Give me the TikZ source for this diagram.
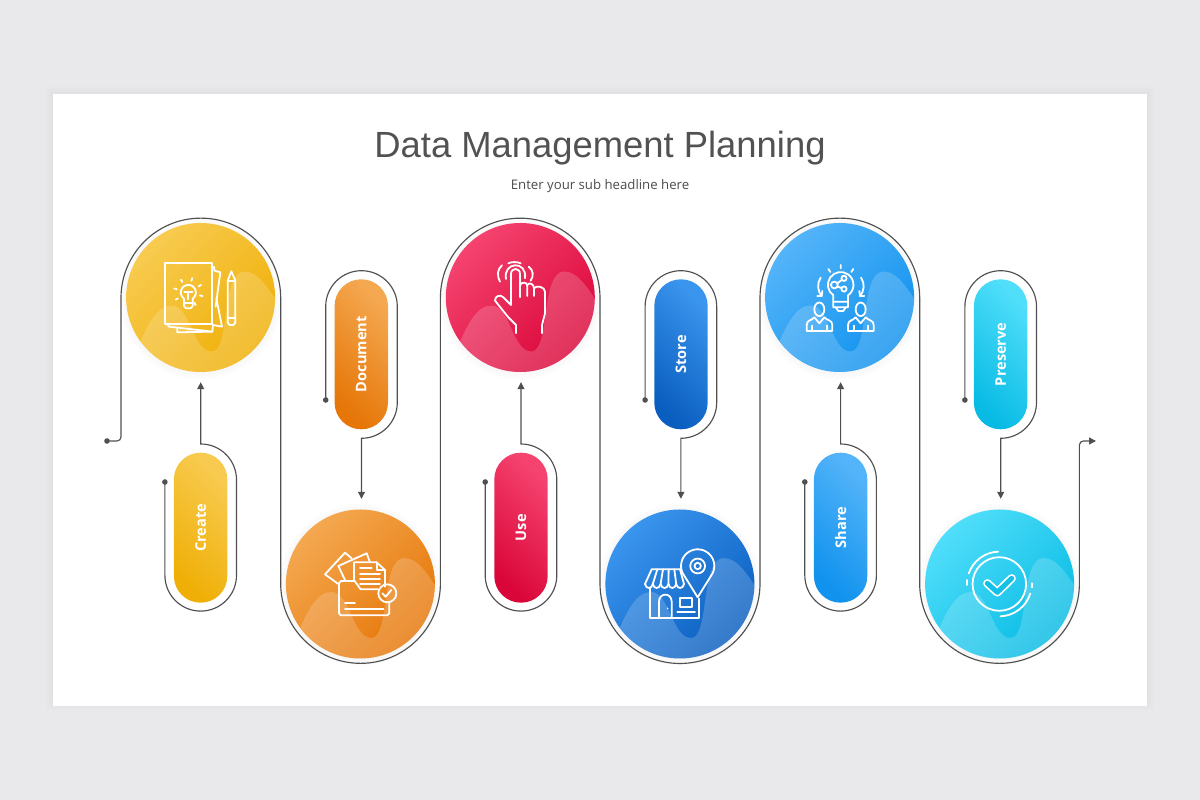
\documentclass[tikz,border=0pt]{standalone}
\usepackage{fontspec}
\setmainfont{Open Sans}
\newfontfamily\titlefont{Liberation Sans}
\usetikzlibrary{arrows.meta,calc}
\definecolor{pagebg}{HTML}{E9E8EA}
\definecolor{wirecol}{HTML}{505050}
\definecolor{yelA}{HTML}{F8CB50}\definecolor{yelB}{HTML}{EFAF06}
\definecolor{oraA}{HTML}{F4A850}\definecolor{oraB}{HTML}{E67608}
\definecolor{redA}{HTML}{F5436F}\definecolor{redB}{HTML}{DA0639}
\definecolor{bluA}{HTML}{3A95EE}\definecolor{bluB}{HTML}{0A5EBF}
\definecolor{ligA}{HTML}{54B4F9}\definecolor{ligB}{HTML}{1092EE}
\definecolor{cyaA}{HTML}{50DEFA}\definecolor{cyaB}{HTML}{08BBE4}
\tikzset{
  x=1pt,y=1pt,
  wire/.style={draw=wirecol,line width=1.15pt},
  tipped/.style={wire,-{Triangle[length=7pt,width=7pt]}},
  enddot/.style={circle,fill=wirecol,inner sep=0pt,minimum size=5.6pt},
  disc/.style n args={2}{circle,minimum size=149pt,inner sep=0pt,top color=#1,bottom color=#2,shading angle=45},
  pill/.style n args={2}{rectangle,rounded corners=26.6pt,rotate=90,minimum width=150pt,minimum height=53.4pt,inner sep=0pt,top color=#1,bottom color=#2,shading angle=-45,text=white,font=\bfseries\fontsize{14.6}{16}\selectfont},
  icon/.style={draw=white,line width=1.8pt,line join=round,line cap=round},
  zoomed/.style={x=0.33333pt,y=-0.33333pt},
  halo/.style={fill=black,opacity=0.004}
}
\newcommand{\softhalo}[1]{\foreach \r in {76,77,78,79,80,81,82}{\fill[halo] ($(#1)+(0,-1)$) circle[radius=\r pt];}}
\newcommand{\wavefill}[1]{%
  \begin{scope}
    \clip (#1) circle[radius=74.5pt];
    \fill[white,opacity=0.18,shift={(#1)}] (-66,-58) .. controls (-54,-28) and (-44,-8) .. (-29,-8)
      .. controls (-10,-8) and (-8,-54) .. (11,-54) .. controls (30,-54) and (20,26) .. (44,26)
      .. controls (58,26) and (68,8) .. (78,-6) -- (78,-80) -- (-66,-80) -- cycle;
  \end{scope}}
\newcommand{\lbl}[1]{\raisebox{-1.2pt}{#1}}
\begin{document}
\begin{tikzpicture}
\useasboundingbox (0,0) rectangle (1200,800);
\fill[pagebg] (0,0) rectangle (1200,800);
\foreach \g in {8,7,6,5,4,3,2,1}{\fill[black,opacity=0.005] (53-\g,94-\g+4) rectangle (1147+\g,706+\g);}
\fill[white] (53,94) rectangle (1147,706);

\node[font=\titlefont\fontsize{36.4}{40}\selectfont,text=black!68] (title) at (600,652) {Data Management Planning};
\node[font=\fontsize{13.2}{15}\selectfont,text=black!70] (subtitle) at (600,614) {Enter your sub headline here};

% circle positions
\coordinate (p1) at (200.6,502.5);
\coordinate (p2) at (360.4,216);
\coordinate (p3) at (520.3,502.5);
\coordinate (p4) at (679.9,216);
\coordinate (p5) at (839.6,502.5);
\coordinate (p6) at (999.6,216);
\foreach \k in {1,...,6}{\softhalo{p\k}}

\node[disc={yelA}{yelB}] (c1) at (p1) {};
\node[disc={oraA}{oraB}] (c2) at (p2) {};
\node[disc={redA}{redB}] (c3) at (p3) {};
\node[disc={bluA}{bluB}] (c4) at (p4) {};
\node[disc={ligA}{ligB}] (c5) at (p5) {};
\node[disc={cyaA}{cyaB}] (c6) at (p6) {};
\foreach \k in {1,...,6}{\wavefill{p\k}}

\node[pill={yelA}{yelB}] (create) at (200.6,272.3) {\lbl{Create}};
\node[pill={oraA}{oraB}] (document) at (361.3,445.7) {\lbl{Document}};
\node[pill={redA}{redB}] (use) at (521,272.3) {\lbl{Use}};
\node[pill={bluA}{bluB}] (store) at (681,445.7) {\lbl{Store}};
\node[pill={ligA}{ligB}] (share) at (840.6,272.3) {\lbl{Share}};
\node[pill={cyaA}{cyaB}] (preserve) at (1000.6,445.7) {\lbl{Preserve}};

% main winding line
\node[enddot] (startdot) at (107,359) {};
\coordinate (k0) at (121,359);
\coordinate (k1) at (121,502);
\coordinate (k2) at (280.7,216.5);
\coordinate (k3) at (440.4,502);
\coordinate (k4) at (600,216.5);
\coordinate (k5) at (760,502);
\coordinate (k6) at (919.7,216.5);
\coordinate (k7) at (1079.4,359);
\coordinate (flowend) at (1096,359);
\draw[tipped] (startdot.center) [rounded corners=4pt] -- (k0) [sharp corners] -- (k1)
  arc[start angle=180,end angle=0,radius=79.85pt] -- (k2)
  arc[start angle=180,end angle=360,radius=79.85pt] -- (k3)
  arc[start angle=180,end angle=0,radius=79.8pt] -- (k4)
  arc[start angle=180,end angle=360,radius=80pt] -- (k5)
  arc[start angle=180,end angle=0,radius=79.85pt] -- (k6)
  arc[start angle=180,end angle=360,radius=79.85pt] [rounded corners=4pt] -- (k7) -- (flowend);

% pill connectors, lower row
\foreach \pn/\cn/\dx in {create/c1/200.7,use/c3/521,share/c5/840.6}{
  \pgfmathsetmacro{\lft}{\dx-35.8}
  \node[enddot] (dot\pn) at (\lft,318) {};
  \coordinate (low\pn) at (\lft,224.7);
  \coordinate (up\pn) at (\dx+35.8,320.2);
  \coordinate (ax\pn) at (\dx,0);
  \coordinate (in\pn) at ($(ax\pn |- \cn.south)+(0,-10)$);
  \draw[tipped] (dot\pn.center) -- (low\pn) arc[start angle=180,end angle=360,radius=35.8pt]
     -- (up\pn) arc[start angle=0,end angle=90,radius=35.8pt] -- (in\pn);
}
% pill connectors, upper row
\foreach \pn/\cn/\dx in {document/c2/361.5,store/c4/680.9,preserve/c6/1000.7}{
  \pgfmathsetmacro{\lft}{\dx-35.8}
  \node[enddot] (dot\pn) at (\lft,400) {};
  \coordinate (up\pn) at (\lft,493.5);
  \coordinate (low\pn) at (\dx+35.8,397.5);
  \coordinate (ax\pn) at (\dx,0);
  \coordinate (in\pn) at ($(ax\pn |- \cn.north)+(0,10.5)$);
  \draw[tipped] (dot\pn.center) -- (up\pn) arc[start angle=180,end angle=0,radius=35.8pt]
     -- (low\pn) arc[start angle=0,end angle=-90,radius=35.8pt] -- (in\pn);
}

% icon 1: papers, bulb, pencil
\begin{scope}[shift={(95pt,590pt)},zoomed]
  \draw[icon] (211,160) rectangle (350,342);
  \draw[icon] (350,170) -- (358,172) -- (358,182) -- (376,187) -- (362,290);
  \draw[icon] (364,265) -- (381,350) -- (354,345);
  \draw[icon] (218,344) -- (222,350) -- (352,365) -- (354,343);
  \draw[icon] (247,353) -- (247,367) -- (352,365);
  \draw[icon] (398,212) -- (409,184) -- (421,212) -- (421,338) -- (415,345) -- (404,345) -- (398,338) -- cycle;
  \draw[icon] (398,212) -- (421,212) (398,325) -- (421,325);
  \draw[icon] (267,266) arc[start angle=235,end angle=-55,radius=7.6pt] -- (293,288) -- (287,295) -- (273,295) -- (267,288) -- cycle;
  \draw[icon] (267,279) -- (293,279) (268,245) -- (292,245) (280,245) -- (280,268);
  \foreach \a in {-30,15,60,105,150,195,240}{\draw[icon] ($(280,247)+(\a+180:36 and 36)$) -- ($(280,247)+(\a+180:44 and 44)$);}
\end{scope}

% icon 2: folder with papers
\begin{scope}[shift={(150pt,370pt)},zoomed]
  \draw[icon] (684,478) -- (632,478) -- (614,453) -- (573,453) -- (567,460) -- (567,550) -- (573,556) -- (712,556) -- (718,550) -- (718,518);
  \draw[icon] (585,518) -- (615,518) (585,538) -- (700,538);
  \draw[icon] (712,490) circle[radius=9pt];
  \draw[icon] (697,490) -- (707,500) -- (724,480);
  \draw[icon] (612,450) -- (612,397) -- (680,397) -- (705,420) -- (705,470);
  \draw[icon] (680,397) -- (680,420) -- (705,420);
  \draw[icon] (630,415) -- (665,415) (630,433) -- (690,433) (630,448) -- (690,448) (630,462) -- (690,462);
  \draw[icon] (565,462) -- (525,433) -- (585,368) -- (605,385);
  \draw[icon] (585,450) -- (565,408) -- (650,370) -- (660,397);
\end{scope}

% icon 3: tapping hand
\begin{scope}[shift={(440pt,590pt)},zoomed]
  \draw[icon] (228,370) -- (228,345) -- (205,322) -- (165,272) .. controls (165,258) and (180,252) .. (190,262)
     -- (213,285) -- (213,192) .. controls (213,172) and (240,172) .. (240,192) -- (240,262);
  \draw[icon] (240,225) .. controls (245,215) and (262,215) .. (262,228) -- (262,258);
  \draw[icon] (262,225) .. controls (268,215) and (282,222) .. (282,235) -- (282,258);
  \draw[icon] (282,235) .. controls (288,225) and (315,230) .. (315,245) -- (315,310) -- (306,345) -- (306,370);
  \draw[icon] (198,207) .. controls (188,155) and (262,150) .. (255,205);
  \draw[icon] (180,215) .. controls (170,195) and (172,178) .. (186,166);
  \draw[icon] (205,160) .. controls (215,155) and (232,155) .. (242,160);
  \draw[icon] (266,170) .. controls (280,180) and (282,198) .. (272,212);
\end{scope}

% icon 4: shop with pin
\begin{scope}[shift={(590pt,310pt)},zoomed]
  \draw[icon] (323,322) -- (277.7,249) arc[start angle=205,end angle=-25,radius=16.67pt] -- cycle;
  \draw[icon] (323,228) circle[radius=7.4pt];
  \draw[icon] (323,228) circle[radius=3.2pt];
  \draw[icon] (272,238) -- (185,238) -- (165,282);
  \foreach \i in {0,...,4}{
    \pgfmathsetmacro{\xa}{165+\i*23.4}\pgfmathsetmacro{\xb}{\xa+23.4}
    \pgfmathsetmacro{\tb}{185+(\i+1)*17}
    \draw[icon] (\xa,282) .. controls (\xa+3,298) and (\xb-3,298) .. (\xb,282);
    \draw[icon] (\xb,282) -- (\tb,238);
  }
  \draw[icon] (180,296) -- (180,385) -- (328,385) -- (328,326);
  \draw[icon] (207,380) -- (207,335) .. controls (207,307) and (245,307) .. (245,335) -- (245,380);
  \fill[white] (233,355) circle[radius=0.9pt];
  \draw[icon] (270,325) rectangle (307,352);
  \draw[icon] (262,365) -- (315,365);
\end{scope}

% icon 5: shared idea
\begin{scope}[shift={(755pt,590pt)},zoomed]
  \draw[icon] (235,256) arc[start angle=235,end angle=-55,radius=12.8pt] -- (279,292) -- (235,292) -- cycle;
  \draw[icon] (235,275) -- (279,275) (242,292) -- (250,303) -- (265,303) -- (272,292);
  \draw[icon] (257,165) -- (257,175) (220,177) -- (226,186) (295,177) -- (289,186);
  \draw[icon] (238,225) circle[radius=3.4pt];
  \draw[icon] (267,205) circle[radius=2.6pt];
  \draw[icon] (267,237) circle[radius=2.6pt];
  \draw[icon] (247,220) -- (260,210) (247,230) -- (260,234);
  \draw[icon] (197,203) .. controls (185,220) and (188,245) .. (200,258);
  \draw[icon] (187,258) -- (200,258) -- (202,243);
  \draw[icon] (318,203) .. controls (331,220) and (327,245) .. (315,258);
  \draw[icon] (328,258) -- (315,258) -- (313,243);
  \foreach \dx in {0,124}{
    \begin{scope}[xshift=\dx*0.33333pt]
      \draw[icon] (155,363) -- (155,345) .. controls (155,330) and (170,332) .. (178,322) -- (193,340) -- (208,322) .. controls (216,332) and (232,330) .. (232,345) -- (232,363) -- cycle;
      \draw[icon] (172,363) -- (172,347) (215,363) -- (215,347);
      \draw[icon] (193,298) ellipse[x radius=5pt,y radius=6.8pt];
    \end{scope}
  }
\end{scope}

% icon 6: check
\begin{scope}[shift={(915pt,370pt)},zoomed]
  \draw[icon] (253,462) circle[radius=26.8pt];
  \draw[icon] (249.6,365) arc[start angle=92,end angle=161,radius=32.33pt];
  \draw[icon] (155,450) -- (155,465) (350,460) -- (350,472);
  \draw[icon] (345.8,490.4) arc[start angle=-17,end angle=-88,radius=32.33pt];
  \draw[draw=white,line width=8.4pt,line cap=round,line join=round] (217,460) -- (247,487) -- (290,445);
  \draw[draw=cyaB!85!cyaA,line width=5pt,line cap=round,line join=round] (217,460) -- (247,487) -- (290,445);
\end{scope}
\end{tikzpicture}
\end{document}
